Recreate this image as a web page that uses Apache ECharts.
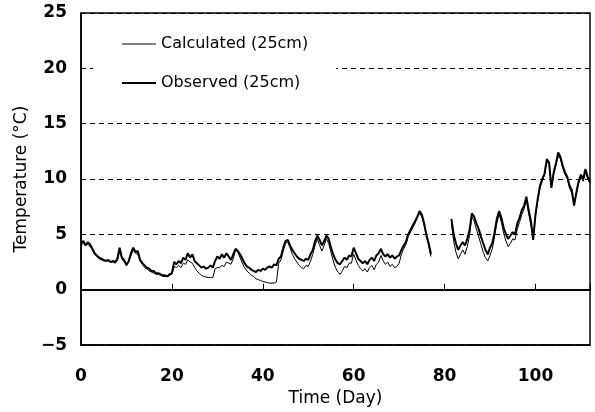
<!DOCTYPE html>
<html>
<head>
<meta charset="utf-8">
<script src="https://cdn.jsdelivr.net/npm/echarts@6/dist/echarts.min.js"></script>
<style>html,body{margin:0;padding:0;background:#fff}#c{width:595px;height:412px}</style>
</head>
<body>
<div id="c"></div>
<script>
// Half-day sampling from day 0 to day 112 (null = missing record)
var dayStart = 0, dayStep = 0.5;
var observed = [
4.2,4.4,4.0,4.3,4.1,3.7,3.3,3.1,2.9,2.8,2.7,2.6,2.7,2.5,2.6,2.5,2.8,3.8,2.9,2.7,
2.2,2.6,3.3,3.8,3.4,3.5,2.7,2.4,2.2,2.0,1.9,1.7,1.7,1.5,1.5,1.4,1.3,1.3,1.2,1.4,
1.5,2.5,2.3,2.6,2.4,2.9,2.7,3.3,2.9,3.2,2.6,2.4,2.2,2.0,2.1,1.9,2.0,2.2,2.0,2.6,
3.0,2.8,3.2,2.9,3.3,3.0,2.7,3.2,3.7,3.5,3.2,2.8,2.4,2.1,2.0,1.8,1.7,1.6,1.8,1.7,
1.9,1.8,2.0,2.1,2.0,2.3,2.2,2.8,3.0,3.8,4.4,4.5,4.0,3.6,3.3,3.0,2.8,2.7,2.6,2.8,
2.7,3.2,3.6,4.4,4.9,4.5,4.0,4.4,4.9,4.6,3.8,3.2,2.7,2.4,2.3,2.6,2.9,2.7,3.1,3.0,
3.8,3.3,2.8,2.6,2.4,2.6,2.3,2.7,2.9,2.6,3.1,3.3,3.7,3.2,3.0,3.2,2.9,3.1,2.8,3.0,
3.1,3.6,4.0,4.3,5.0,5.4,5.8,6.2,6.6,7.1,6.8,6.0,5.0,4.2,3.2,null,null,null,null,null,
null,null,null,6.4,5.0,4.2,3.6,4.0,4.3,4.0,4.6,5.4,6.9,6.6,6.0,5.5,4.8,4.2,3.6,3.2,
3.8,4.2,5.2,6.4,7.1,6.5,5.6,5.0,4.6,4.9,5.2,5.0,6.0,6.5,7.2,7.6,8.4,7.2,6.2,4.5,
6.8,8.2,9.4,10.0,10.5,11.8,11.5,9.2,10.6,11.4,12.4,12.0,11.2,10.6,10.2,9.4,9.0,7.6,8.8,9.8,
10.4,10.0,10.9,10.2,9.7
];
var calculated = [
4.0,4.2,4.1,4.1,3.9,3.6,3.2,3.0,2.8,2.7,2.6,2.6,2.6,2.5,2.5,2.4,2.6,3.5,2.8,2.5,
2.3,2.5,3.1,3.6,3.3,3.2,2.6,2.3,2.0,1.9,1.7,1.6,1.5,1.4,1.4,1.3,1.2,1.2,1.2,1.3,
1.4,2.1,2.0,2.2,2.0,2.4,2.3,2.7,2.5,2.4,2.0,1.7,1.5,1.3,1.2,1.15,1.1,1.1,1.1,1.9,
2.0,2.0,2.2,2.1,2.5,2.4,2.3,2.8,3.6,3.4,2.9,2.4,2.0,1.7,1.5,1.3,1.2,1.0,0.9,0.85,
0.75,0.7,0.65,0.6,0.6,0.6,0.7,2.4,2.7,3.5,4.2,4.3,3.8,3.2,2.8,2.5,2.2,2.0,1.9,2.2,
2.1,2.6,3.2,4.0,4.6,4.0,3.5,4.0,4.6,4.2,3.4,2.6,2.0,1.6,1.4,1.7,2.1,2.0,2.4,2.4,
3.2,2.7,2.2,1.9,1.7,1.9,1.6,2.0,2.2,1.8,2.3,2.5,3.1,2.6,2.3,2.5,2.1,2.3,2.0,2.1,
2.4,3.2,3.7,4.1,4.8,5.2,5.6,6.0,6.5,6.9,6.6,5.8,4.8,4.0,3.0,null,null,null,null,null,
null,null,null,6.0,4.4,3.4,2.8,3.2,3.6,3.2,3.9,4.9,6.6,6.2,5.5,4.8,4.1,3.4,2.9,2.6,
3.1,3.7,4.8,6.0,6.8,6.1,5.1,4.4,3.9,4.2,4.6,4.5,5.5,6.1,6.8,7.3,8.1,6.9,5.8,4.8,
6.6,8.0,9.2,9.8,10.4,11.6,11.3,9.4,10.4,11.2,12.1,11.8,11.0,10.4,10.0,9.2,8.7,7.8,8.6,9.6,
10.2,9.8,10.6,10.0,9.6
];
var xTicks = [0, 20, 40, 60, 80, 100];
var yTicks = [-5, 0, 5, 10, 15, 20, 25];
var seriesNames = ['Calculated (25cm)', 'Observed (25cm)'];

function pairs(arr) {
  return arr.map(function (v, i) { return [dayStart + i * dayStep, v]; });
}

var chart = echarts.init(document.getElementById('c'), null, {renderer: 'canvas'});
var font = '"DejaVu Sans", Verdana, sans-serif';
chart.setOption({
  animation: false,
  backgroundColor: '#fff',
  grid: {left: 81, right: 5, top: 13, bottom: 63, show: true, borderColor: '#000', borderWidth: 1.5, backgroundColor: 'transparent'},
  legend: {
    orient: 'vertical', left: 93, top: 27,
    padding: [9, 28, 9, 28],
    backgroundColor: '#fff',
    itemWidth: 34, itemHeight: 14, itemGap: 23,
    itemStyle: {opacity: 0},
    data: [
      {name: seriesNames[0], itemStyle: {opacity: 0}, lineStyle: {width: 1, color: '#000'}},
      {name: seriesNames[1], itemStyle: {opacity: 0}, lineStyle: {width: 2, color: '#000'}}
    ],
    textStyle: {fontFamily: font, fontSize: 16, color: '#000'}
  },
  xAxis: [{
    type: 'value', min: 0, max: 112, interval: 20,
    name: 'Time (Day)', nameLocation: 'middle', nameGap: 42,
    nameTextStyle: {fontFamily: font, fontSize: 17, color: '#000'},
    axisLine: {show: true, onZero: false, lineStyle: {color: '#000', width: 1.5}},
    axisTick: {show: false},
    splitLine: {show: false},
    axisLabel: {fontFamily: font, fontSize: 17, fontWeight: 'bold', color: '#000', margin: 23,
      formatter: function (v) { return xTicks.indexOf(v) >= 0 ? String(v) : ''; }}
  }, {
    type: 'value', min: 0, max: 112, interval: 20, position: 'bottom',
    axisLine: {show: true, onZero: true, lineStyle: {color: '#000', width: 2}},
    axisTick: {show: true, inside: true, length: 6, lineStyle: {color: '#000', width: 1}},
    axisLabel: {show: false}, splitLine: {show: false}
  }],
  yAxis: {
    type: 'value', min: -5, max: 25, interval: 5,
    name: 'Temperature (\u00B0C)', nameLocation: 'middle', nameGap: 46, nameRotate: 90,
    nameTextStyle: {fontFamily: font, fontSize: 17, color: '#000'},
    axisLine: {show: true, lineStyle: {color: '#000', width: 1.5}},
    axisTick: {show: false},
    splitLine: {show: true, lineStyle: {color: '#000', type: [5, 4], width: 1}},
    axisLabel: {fontFamily: font, fontSize: 17, fontWeight: 'bold', color: '#000', margin: 14,
      formatter: function (v) { return yTicks.indexOf(v) >= 0 ? String(v).replace('-', '\u2212') : ''; }}
  },
  series: [{
    name: seriesNames[0], type: 'line', showSymbol: false, symbol: 'none',
    data: pairs(calculated), connectNulls: false,
    lineStyle: {color: '#000', width: 1}, itemStyle: {color: '#000'}, z: 2
  }, {
    name: seriesNames[1], type: 'line', showSymbol: false, symbol: 'none',
    data: pairs(observed), connectNulls: false,
    lineStyle: {color: '#000', width: 2}, itemStyle: {color: '#000'}, z: 3
  }]
});
</script>
</body>
</html>
